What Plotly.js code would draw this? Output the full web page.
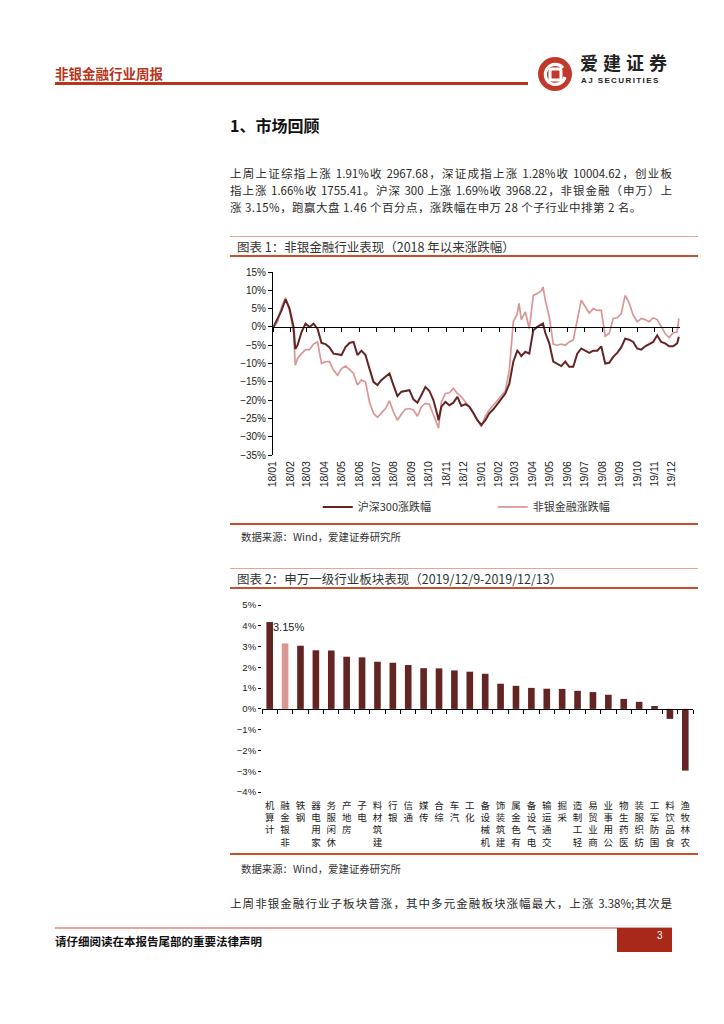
<!DOCTYPE html>
<html><head><meta charset="utf-8">
<script src="https://cdn.plot.ly/plotly-3.0.1.min.js"></script>
<style>
body{margin:0;width:724px;height:1024px;background:#fff;position:relative;font-family:"Noto Sans CJK SC","Noto Sans",sans-serif;color:#222;overflow:hidden}
.a{position:absolute;white-space:nowrap}
.bar{position:absolute}
.jl{position:absolute;left:230px;width:442px;font-size:11.5px;line-height:17px;text-align:justify;text-align-last:justify;white-space:nowrap;color:#2a2a2a}
.pl{position:absolute;left:230px;font-size:11.5px;line-height:17px;white-space:nowrap;color:#2a2a2a;letter-spacing:0.45px}
.ttl{position:absolute;left:237px;font-size:12.5px;line-height:17px;color:#333;white-space:nowrap}
.src{position:absolute;left:241px;font-size:10.4px;line-height:14px;color:#333;white-space:nowrap}
</style></head>
<body>
<!-- header -->
<div class="a" style="left:55px;top:64px;font-size:13.5px;line-height:18px;font-weight:bold;color:#B8341B;">非银金融行业周报</div>
<div class="bar" style="left:55px;top:81.5px;width:473px;height:3px;background:#B8341B;"></div>
<svg class="a" style="left:536px;top:55px" width="38" height="38" viewBox="0 0 38 38">
  <circle cx="19" cy="19" r="17" fill="#C0392B"/>
  <path d="M27 13 A10 10 0 1 0 29 22" fill="none" stroke="#fff" stroke-width="3.2"/>
  <rect x="14" y="14" width="11" height="11" rx="2" fill="none" stroke="#fff" stroke-width="3"/>
</svg>
<div class="a" style="left:580px;top:52px;font-size:18px;line-height:20px;font-weight:bold;letter-spacing:5px;color:#222;">爱建证券</div>
<div class="a" style="left:581px;top:76px;font-size:8px;line-height:9px;font-weight:bold;letter-spacing:1.4px;color:#222;font-family:'Liberation Sans',Arial,sans-serif;">AJ SECURITIES</div>

<!-- section -->
<div class="a" style="left:230px;top:114px;font-size:16px;line-height:22px;font-weight:bold;color:#111;">1、市场回顾</div>
<div class="jl" style="top:165px;">上周上证综指上涨 1.91%收 2967.68，深证成指上涨 1.28%收 10004.62，创业板</div>
<div class="jl" style="top:182px;">指上涨 1.66%收 1755.41。沪深 300 上涨 1.69%收 3968.22，非银金融（申万）上</div>
<div class="pl" style="top:199px;">涨 3.15%，跑赢大盘 1.46 个百分点，涨跌幅在申万 28 个子行业中排第 2 名。</div>

<!-- chart 1 frame -->
<div class="bar" style="left:230px;top:235.5px;width:468px;height:1px;background:#E9A592;"></div>
<div class="ttl" style="top:237.5px;">图表 1：非银金融行业表现（2018 年以来涨跌幅）</div>
<div class="bar" style="left:230px;top:255px;width:468px;height:2px;background:#C4502E;"></div>
<div id="c1" style="position:absolute;left:230px;top:258px;width:470px;height:290px;"></div>
<div class="bar" style="left:230px;top:523px;width:468px;height:2px;background:#C4502E;"></div>
<div class="src" style="top:530px;">数据来源：Wind，爱建证券研究所</div>

<!-- chart 2 frame -->
<div class="bar" style="left:230px;top:567.5px;width:468px;height:1px;background:#E9A592;"></div>
<div class="ttl" style="top:569.5px;">图表 2：申万一级行业板块表现（2019/12/9-2019/12/13）</div>
<div class="bar" style="left:230px;top:587px;width:468px;height:2px;background:#C4502E;"></div>
<div id="c2" style="position:absolute;left:230px;top:590px;width:470px;height:262px;"></div>
<div class="bar" style="left:230px;top:853px;width:468px;height:2px;background:#C4502E;"></div>
<div class="src" style="top:862px;">数据来源：Wind，爱建证券研究所</div>

<div class="jl" style="top:895px;">上周非银金融行业子板块普涨，其中多元金融板块涨幅最大，上涨 3.38%;其次是</div>

<!-- footer -->
<div class="bar" style="left:55px;top:927px;width:617px;height:1.5px;background:#F2A29B;"></div>
<div class="bar" style="left:617px;top:928px;width:55px;height:24px;background:#A8281A;"></div>
<div class="a" style="left:657px;top:930px;font-size:10px;line-height:12px;color:#fff;font-family:'Liberation Sans',Arial,sans-serif;">3</div>
<div class="a" style="left:55px;top:933px;font-size:11.5px;line-height:16px;font-weight:bold;color:#111;">请仔细阅读在本报告尾部的重要法律声明</div>

<script>
// ---------- Chart 1 data ----------
const lineDates = [
 '2018-01-02','2018-01-09','2018-01-16','2018-01-23','2018-01-30','2018-02-06','2018-02-09','2018-02-13','2018-02-20','2018-02-27',
 '2018-03-06','2018-03-13','2018-03-20','2018-03-27','2018-04-03','2018-04-10','2018-04-17','2018-04-24','2018-05-01','2018-05-08',
 '2018-05-15','2018-05-22','2018-05-29','2018-06-05','2018-06-12','2018-06-19','2018-06-26','2018-07-03','2018-07-10','2018-07-17',
 '2018-07-24','2018-07-31','2018-08-07','2018-08-14','2018-08-21','2018-08-28','2018-09-04','2018-09-11','2018-09-18','2018-09-25',
 '2018-10-02','2018-10-09','2018-10-16','2018-10-18','2018-10-23','2018-10-30','2018-11-06','2018-11-13','2018-11-20','2018-11-27',
 '2018-12-04','2018-12-11','2018-12-18','2018-12-25',
 '2019-01-01','2019-01-08','2019-01-15','2019-01-22','2019-01-29','2019-02-05','2019-02-12','2019-02-19','2019-02-26','2019-03-05',
 '2019-03-08','2019-03-12','2019-03-19','2019-03-26','2019-04-02','2019-04-09','2019-04-16','2019-04-19','2019-04-23','2019-04-30',
 '2019-05-07','2019-05-14','2019-05-21','2019-05-28','2019-06-04','2019-06-11','2019-06-18','2019-06-25','2019-07-02','2019-07-09',
 '2019-07-16','2019-07-23','2019-07-30','2019-08-06','2019-08-13','2019-08-20','2019-08-27','2019-09-03','2019-09-10','2019-09-17',
 '2019-09-24','2019-10-01','2019-10-08','2019-10-15','2019-10-22','2019-10-29','2019-11-05','2019-11-12','2019-11-19','2019-11-26',
 '2019-12-03','2019-12-10','2019-12-13'
];
const hs300Chg = [
 0, 2.3, 4.5, 7.5, 5.0, 0, -6.0, -5.0, -1.4, 0.9,
 0, 0.9, -0.5, -4.4, -4.7, -5.6, -7.3, -7.5, -7.7, -5.5,
 -4.4, -4.1, -7.7, -6.5, -7.7, -11.4, -15.0, -15.9, -14.5, -13.6,
 -12.7, -15.9, -18.9, -17.7, -17.5, -17.3, -19.8, -20.7, -18.6, -16.4,
 -17.5, -20.0, -24.1, -25.5, -21.8, -20.5, -21.4, -20.7, -19.1, -21.6,
 -21.1, -21.8, -23.5, -25.5,
 -26.8, -25.5, -23.6, -22.5, -21.1, -19.5, -18.2, -15.5, -9.5, -6.5,
 -7.0, -8.0, -6.8, -7.3, -0.9, 0, 0.7, 0.9, -1.6, -4.5,
 -9.5, -10.2, -10.7, -9.5, -10.9, -10.9, -7.3, -5.9, -6.4, -7.1,
 -6.5, -6.5, -5.3, -10.0, -9.8, -8.2, -7.1, -5.6, -3.2, -3.5,
 -4.1, -5.9, -6.2, -5.3, -4.7, -4.1, -2.3, -4.1, -4.5, -5.3,
 -5.3, -4.5, -2.7
];
const nonbankChg = [
 0, 1.4, 5.5, 8.0, 4.5, -1.4, -10.5, -8.6, -7.3, -6.2,
 -6.2, -4.7, -4.1, -10.0, -9.5, -9.5, -11.8, -13.2, -11.4, -10.7,
 -11.6, -12.7, -15.9, -14.5, -15.0, -20.5, -23.6, -24.7, -23.5, -22.3,
 -20.2, -23.2, -25.5, -23.8, -22.5, -22.3, -22.7, -24.4, -21.8, -20.9,
 -21.1, -24.1, -26.8, -27.7, -20.5, -18.2, -18.0, -16.8, -18.2, -19.1,
 -20.5, -21.8, -23.5, -25.5,
 -27.3, -24.4, -22.7, -21.4, -20.2, -18.9, -17.5, -11.8, 1.4, 3.6,
 6.4, 2.0, 4.1, -0.5, 8.6, 9.1, 9.8, 10.9, 7.3, 2.7,
 -4.7, -5.0, -4.7, -5.0, -4.1, -3.6, 1.8, 7.3, 5.5, 3.8,
 5.0, 4.5, 4.5, -2.5, -1.8, 2.3, 2.5, 3.6, 8.6, 6.5,
 3.2, 1.4, 2.3, 2.0, 1.4, 2.5, 2.0, 0, -1.8, -2.9,
 -1.6, -1.4, 2.3
];
const seriesNames = ['沪深300涨跌幅', '非银金融涨跌幅'];
const monthTicks = ['2018-01-01','2018-02-01','2018-03-01','2018-04-01','2018-05-01','2018-06-01','2018-07-01','2018-08-01','2018-09-01','2018-10-01','2018-11-01','2018-12-01',
 '2019-01-01','2019-02-01','2019-03-01','2019-04-01','2019-05-01','2019-06-01','2019-07-01','2019-08-01','2019-09-01','2019-10-01','2019-11-01','2019-12-01'];
const monthLabels = ['18/01','18/02','18/03','18/04','18/05','18/06','18/07','18/08','18/09','18/10','18/11','18/12',
 '19/01','19/02','19/03','19/04','19/05','19/06','19/07','19/08','19/09','19/10','19/11','19/12'];

// ---------- Chart 2 data ----------
const industries = ['计算机','非银金融','钢铁','家用电器','休闲服务','房地产','电子','建筑材料','银行','通信','传媒','综合','汽车','化工','机械设备','建筑装饰','有色金属','电气设备','交通运输','采掘','轻工制造','商业贸易','公用事业','医药生物','纺织服装','国防军工','食品饮料','农林牧渔'];
const weeklyChg = [4.18, 3.15, 3.04, 2.82, 2.81, 2.51, 2.48, 2.27, 2.22, 2.11, 1.96, 1.95, 1.85, 1.79, 1.69, 1.21, 1.11, 1.01, 0.97, 0.96, 0.87, 0.81, 0.68, 0.48, 0.34, 0.14, -0.48, -2.97];
const highlight = '非银金融';

const DARK = '#632523', PINK = '#DA9694';
const numFont = 'Liberation Sans, Arial, Noto Sans CJK SC, sans-serif';
const cjkFont = 'Noto Sans CJK SC, Liberation Sans, sans-serif';

// Chart 1
const xRange1 = ['2018-01-01', '2019-12-15'];
Plotly.newPlot('c1', [
  {type:'scatter', mode:'lines', x: lineDates, y: hs300Chg, xaxis:'x2', name: seriesNames[0],
   line:{color: DARK, width: 2}, hoverinfo:'skip'},
  {type:'scatter', mode:'lines', x: lineDates, y: nonbankChg, name: seriesNames[1],
   line:{color: PINK, width: 1.7}, hoverinfo:'skip'}
], {
  width: 470, height: 290,
  margin: {l: 43, r: 20, t: 14, b: 93},
  paper_bgcolor: 'rgba(0,0,0,0)', plot_bgcolor: 'rgba(0,0,0,0)',
  font: {family: numFont, color: '#222'},
  showlegend: true,
  legend: {orientation: 'h', x: 0.11, xanchor: 'left', y: -0.284, yanchor: 'middle',
           entrywidth: 130, font: {family: cjkFont, size: 11, color: '#333'}, bgcolor: 'rgba(0,0,0,0)'},
  xaxis: {type: 'date', range: xRange1, tickvals: monthTicks, ticktext: monthLabels, tickangle: -90,
          showline: false, ticks: '', showgrid: false, zeroline: false, ticklabelstandoff: 3,
          tickfont: {size: 10.5, color: '#222', family: numFont}},
  xaxis2: {type: 'date', overlaying: 'x', anchor: 'free', position: 0.7, range: xRange1,
           tickvals: monthTicks, showticklabels: false, showline: true, linecolor: '#000', linewidth: 1,
           ticks: 'outside', ticklen: 4, tickcolor: '#000', showgrid: false, zeroline: false},
  yaxis: {range: [-35, 15], tick0: -35, dtick: 5, ticksuffix: '%', showline: true, linecolor: '#000', linewidth: 1,
          ticks: 'outside', ticklen: 4, tickcolor: '#000', showgrid: false, zeroline: false,
          tickfont: {size: 10, color: '#222', family: numFont}}
}, {staticPlot: true});

// Chart 2
const stackedLabels = industries.map(s => Array.from(s).reverse().join('<br>'));
const barColors = industries.map(c => c === highlight ? PINK : DARK);
const hiIdx = industries.indexOf(highlight);
Plotly.newPlot('c2', [
  {type:'bar', x: industries, y: weeklyChg, marker: {color: barColors}, hoverinfo:'skip', showlegend: false},
  {type:'scatter', mode:'none', x: [-0.5], y: [null], xaxis:'x2', showlegend:false, hoverinfo:'skip'}
], {
  width: 470, height: 262,
  margin: {l: 32, r: 7, t: 15, b: 60},
  paper_bgcolor: 'rgba(0,0,0,0)', plot_bgcolor: 'rgba(0,0,0,0)',
  font: {family: numFont, color: '#222'},
  bargap: 0.57,
  xaxis: {type: 'category', range: [-0.5, industries.length - 0.5], tickvals: industries, ticktext: stackedLabels,
          tickangle: 0, showline: false, ticks: '', showgrid: false, zeroline: false, ticklabelstandoff: 6,
          tickfont: {size: 9.5, color: '#222', family: cjkFont}},
  xaxis2: {type: 'linear', overlaying: 'x', anchor: 'free', position: 4/9, range: [-0.5, industries.length - 0.5],
           tick0: -0.5, dtick: 1, showticklabels: false, showline: true, linecolor: '#000', linewidth: 1,
           ticks: 'outside', ticklen: 4, tickcolor: '#000', showgrid: false, zeroline: false},
  yaxis: {range: [-4, 5], tick0: -4, dtick: 1, ticksuffix: '%', showline: false, ticks: 'outside', ticklen: 3,
          tickcolor: '#000', showgrid: false, zeroline: false, tickfont: {size: 9.5, color: '#222', family: numFont}},
  annotations: [{x: industries[hiIdx], y: weeklyChg[hiIdx], text: weeklyChg[hiIdx].toFixed(2) + '%',
                 showarrow: false, yanchor: 'bottom', xshift: 3, yshift: 8,
                 font: {size: 11, color: '#222', family: numFont}}]
}, {staticPlot: true});
</script>
</body></html>
